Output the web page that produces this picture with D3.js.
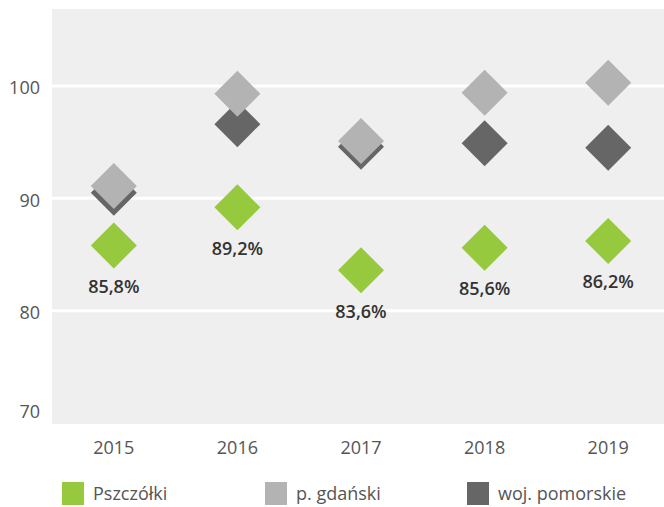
<!DOCTYPE html>
<html>
<head>
<meta charset="utf-8">
<script src="https://cdn.jsdelivr.net/npm/d3@7"></script>
<style>
  body { margin: 0; background: #fff; }
  svg { display: block; }
  text { font-family: "Open Sans", sans-serif; }
</style>
</head>
<body>
<div id="chart"></div>
<script>
// data
var years = ["2015", "2016", "2017", "2018", "2019"]
var seriesNames = ["Pszczółki", "p. gdański", "woj. pomorskie"]
var pszczolki = [85.8, 89.2, 83.6, 85.6, 86.2]
var gdanski = [91.1, 99.3, 95.1, 99.4, 100.3]
var pomorskie = [90.5, 96.6, 94.6, 94.9, 94.5]
var yTicks = [70, 80, 90, 100]

var colors = {"Pszczółki": "#96c93d", "p. gdański": "#b3b3b3", "woj. pomorskie": "#666666"}

var width = 664, height = 507

var svg = d3.select("#chart").append("svg")
    .attr("width", width)
    .attr("height", height)

var x = d3.scaleBand().domain(years).range([52, 670])
var y = d3.scaleLinear().domain([70, 100]).range([423, 86])

// plot background
svg.append("rect")
    .attr("x", 52)
    .attr("y", 9)
    .attr("width", width - 52)
    .attr("height", 424 - 9)
    .attr("fill", "#efefef")

// grid lines (not on the bottom edge)
svg.selectAll("line.grid")
    .data(yTicks.filter(d => d > 70))
    .enter()
    .append("line")
    .attr("class", "grid")
    .attr("x1", 52)
    .attr("x2", width)
    .attr("y1", d => y(d))
    .attr("y2", d => y(d))
    .attr("stroke", "#fff")
    .attr("stroke-width", 3)

// y labels
svg.selectAll("text.ytick")
    .data(yTicks)
    .enter()
    .append("text")
    .attr("class", "ytick")
    .attr("x", 40)
    .attr("y", d => d == 70 ? y(d) - 11 : y(d) + 2)
    .attr("dy", "0.35em")
    .attr("text-anchor", "end")
    .attr("fill", "#555")
    .attr("font-size", "18px")
    .text(d => d)

// x labels
svg.selectAll("text.xtick")
    .data(years)
    .enter()
    .append("text")
    .attr("class", "xtick")
    .attr("x", d => x(d) + x.bandwidth() / 2)
    .attr("y", 448)
    .attr("dy", "0.35em")
    .attr("text-anchor", "middle")
    .attr("fill", "#555")
    .attr("font-size", "18px")
    .text(d => d)

var diamond = d3.symbol().type(d3.symbolSquare).size(1058)

function drawSeries(values, name) {
    svg.append("g").selectAll("path")
        .data(values)
        .enter()
        .append("path")
        .attr("d", diamond)
        .attr("fill", colors[name])
        .attr("transform", (d, i) => "translate(" + (x(years[i]) + x.bandwidth() / 2) + "," + y(d) + ") rotate(45)")
}

// dark first so the lighter one sits on top
drawSeries(pomorskie, "woj. pomorskie")
drawSeries(gdanski, "p. gdański")
drawSeries(pszczolki, "Pszczółki")

// value labels under green diamonds
svg.selectAll("text.val")
    .data(pszczolki)
    .enter()
    .append("text")
    .attr("class", "val")
    .attr("x", (d, i) => x(years[i]) + x.bandwidth() / 2)
    .attr("y", d => y(d) + 41)
    .attr("dy", "0.35em")
    .attr("text-anchor", "middle")
    .attr("fill", "#333")
    .attr("font-size", "18px")
    .attr("font-weight", 600)
    .text(d => d.toFixed(1).replace(".", ",") + "%")

// legend
var legendX = [62, 265, 467]
var legend = svg.selectAll("g.legend")
    .data(seriesNames)
    .enter()
    .append("g")
    .attr("class", "legend")
    .attr("transform", (d, i) => "translate(" + legendX[i] + ",482)")

legend.append("rect")
    .attr("width", 22)
    .attr("height", 23)
    .attr("fill", d => colors[d])

legend.append("text")
    .attr("x", 31)
    .attr("y", 12)
    .attr("dy", "0.35em")
    .attr("fill", "#555")
    .attr("font-size", "18px")
    .text(d => d)
</script>
</body>
</html>
